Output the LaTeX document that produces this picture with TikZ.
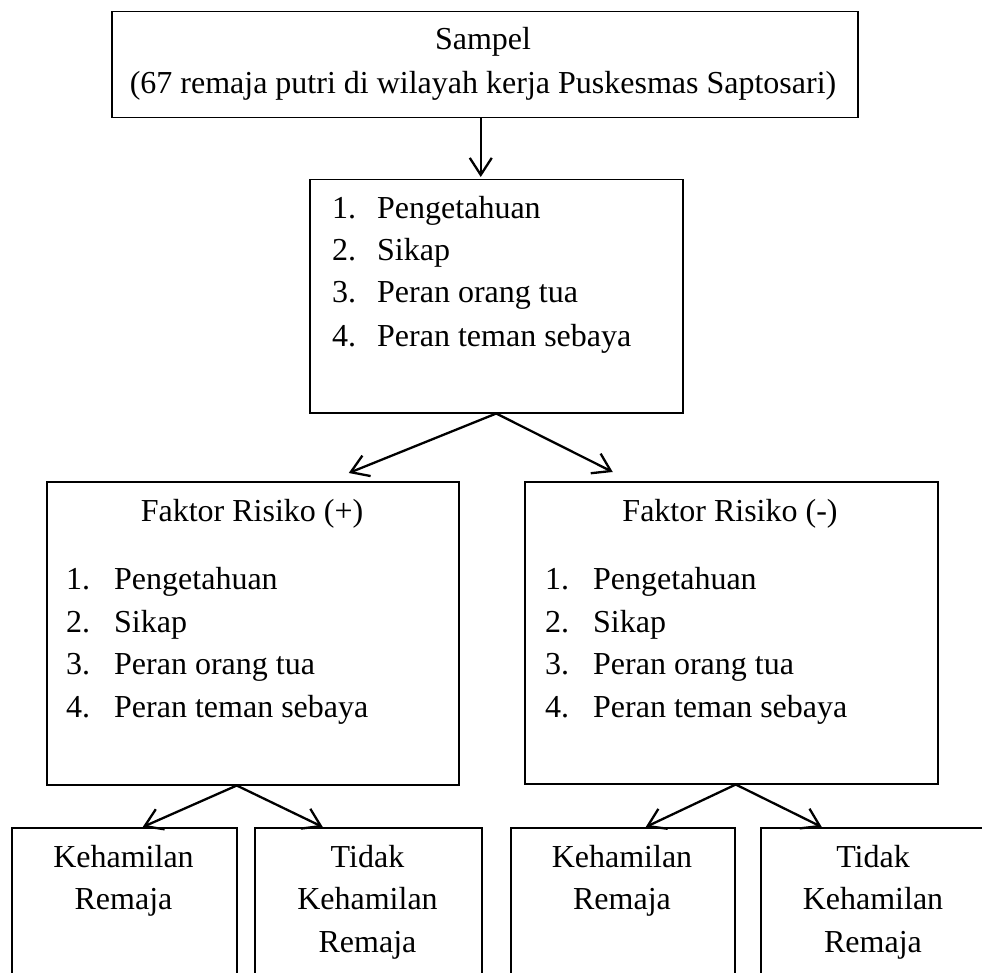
\documentclass[tikz,border=0pt]{standalone}
\usepackage{fontspec}
\setmainfont{Liberation Serif}
\usetikzlibrary{arrows.meta}
\begin{document}
\begin{tikzpicture}[x=1pt,y=-1pt,
  box/.style={draw,line width=1.5pt,inner sep=0pt,anchor=north west},
  txt/.style={font=\fontsize{32}{42}\selectfont,inner sep=0pt,anchor=base},
  itm/.style={font=\fontsize{32}{42}\selectfont,inner sep=0pt,anchor=base west},
  arr/.style={line width=2.3pt,-{Straight Barb[length=17pt,width=22pt]}}]
\useasboundingbox (0,0) rectangle (982,973);
\clip (0,0) rectangle (982,973);
% boxes
\node[box,minimum width=746pt,minimum height=106pt] (top) at (111,11) {};
\node[box,minimum width=373pt,minimum height=233pt] (mid) at (309,179) {};
\node[box,minimum width=412pt,minimum height=303pt] (lf) at (46,481) {};
\node[box,minimum width=413pt,minimum height=302pt] (rf) at (524,481) {};
\node[box,minimum width=225pt,minimum height=200pt] (b1) at (11,827) {};
\node[box,minimum width=227pt,minimum height=200pt] (b2) at (254,827) {};
\node[box,minimum width=224pt,minimum height=200pt] (b3) at (510,827) {};
\node[box,minimum width=226pt,minimum height=200pt] (b4) at (760,827) {};
% top text
\node[txt] (ts1) at (483,50) {Sampel};
\node[txt] (ts2) at (483,94) {(67 remaja putri di wilayah kerja Puskesmas Saptosari)};
% middle list
\node[itm] (m1n) at (332,219) {1.}; \node[itm] (m1) at (377,219) {Pengetahuan};
\node[itm] (m2n) at (332,261) {2.}; \node[itm] (m2) at (377,261) {Sikap};
\node[itm] (m3n) at (332,303) {3.}; \node[itm] (m3) at (377,303) {Peran orang tua};
\node[itm] (m4n) at (332,346) {4.}; \node[itm] (m4) at (377,346) {Peran teman sebaya};
% left factor box
\node[txt] (lt) at (252,521) {Faktor Risiko (+)};
\node[itm] (l1n) at (66,589) {1.}; \node[itm] (l1) at (114,589) {Pengetahuan};
\node[itm] (l2n) at (66,632) {2.}; \node[itm] (l2) at (114,632) {Sikap};
\node[itm] (l3n) at (66,674) {3.}; \node[itm] (l3) at (114,674) {Peran orang tua};
\node[itm] (l4n) at (66,717) {4.}; \node[itm] (l4) at (114,717) {Peran teman sebaya};
% right factor box
\node[txt] (rt) at (730,521) {Faktor Risiko (-)};
\node[itm] (r1n) at (545,589) {1.}; \node[itm] (r1) at (593,589) {Pengetahuan};
\node[itm] (r2n) at (545,632) {2.}; \node[itm] (r2) at (593,632) {Sikap};
\node[itm] (r3n) at (545,674) {3.}; \node[itm] (r3) at (593,674) {Peran orang tua};
\node[itm] (r4n) at (545,717) {4.}; \node[itm] (r4) at (593,717) {Peran teman sebaya};
% bottom texts
\node[txt] (b1a) at (123.5,867) {Kehamilan};
\node[txt] (b1b) at (123.5,909) {Remaja};
\node[txt] (b2a) at (367.5,867) {Tidak};
\node[txt] (b2b) at (367.5,909) {Kehamilan};
\node[txt] (b2c) at (367.5,952) {Remaja};
\node[txt] (b3a) at (622,867) {Kehamilan};
\node[txt] (b3b) at (622,909) {Remaja};
\node[txt] (b4a) at (873,867) {Tidak};
\node[txt] (b4b) at (873,909) {Kehamilan};
\node[txt] (b4c) at (873,952) {Remaja};
% arrows
\draw[arr] ([xshift=-4pt]top.south) -- ([xshift=-15.5pt,yshift=2pt]mid.north);
\draw[arr] (mid.south) -- ([xshift=96pt,yshift=8pt]lf.north);
\draw[arr] (mid.south) -- ([xshift=-118.5pt,yshift=9pt]rf.north);
\draw[arr] ([xshift=-16pt]lf.south) -- ([xshift=18.5pt]b1.north);
\draw[arr] ([xshift=-16pt]lf.south) -- ([xshift=-45.5pt]b2.north);
\draw[arr] ([xshift=4.5pt]rf.south) -- ([xshift=23pt]b3.north);
\draw[arr] ([xshift=4.5pt]rf.south) -- ([xshift=-52pt]b4.north);
\end{tikzpicture}
\end{document}
